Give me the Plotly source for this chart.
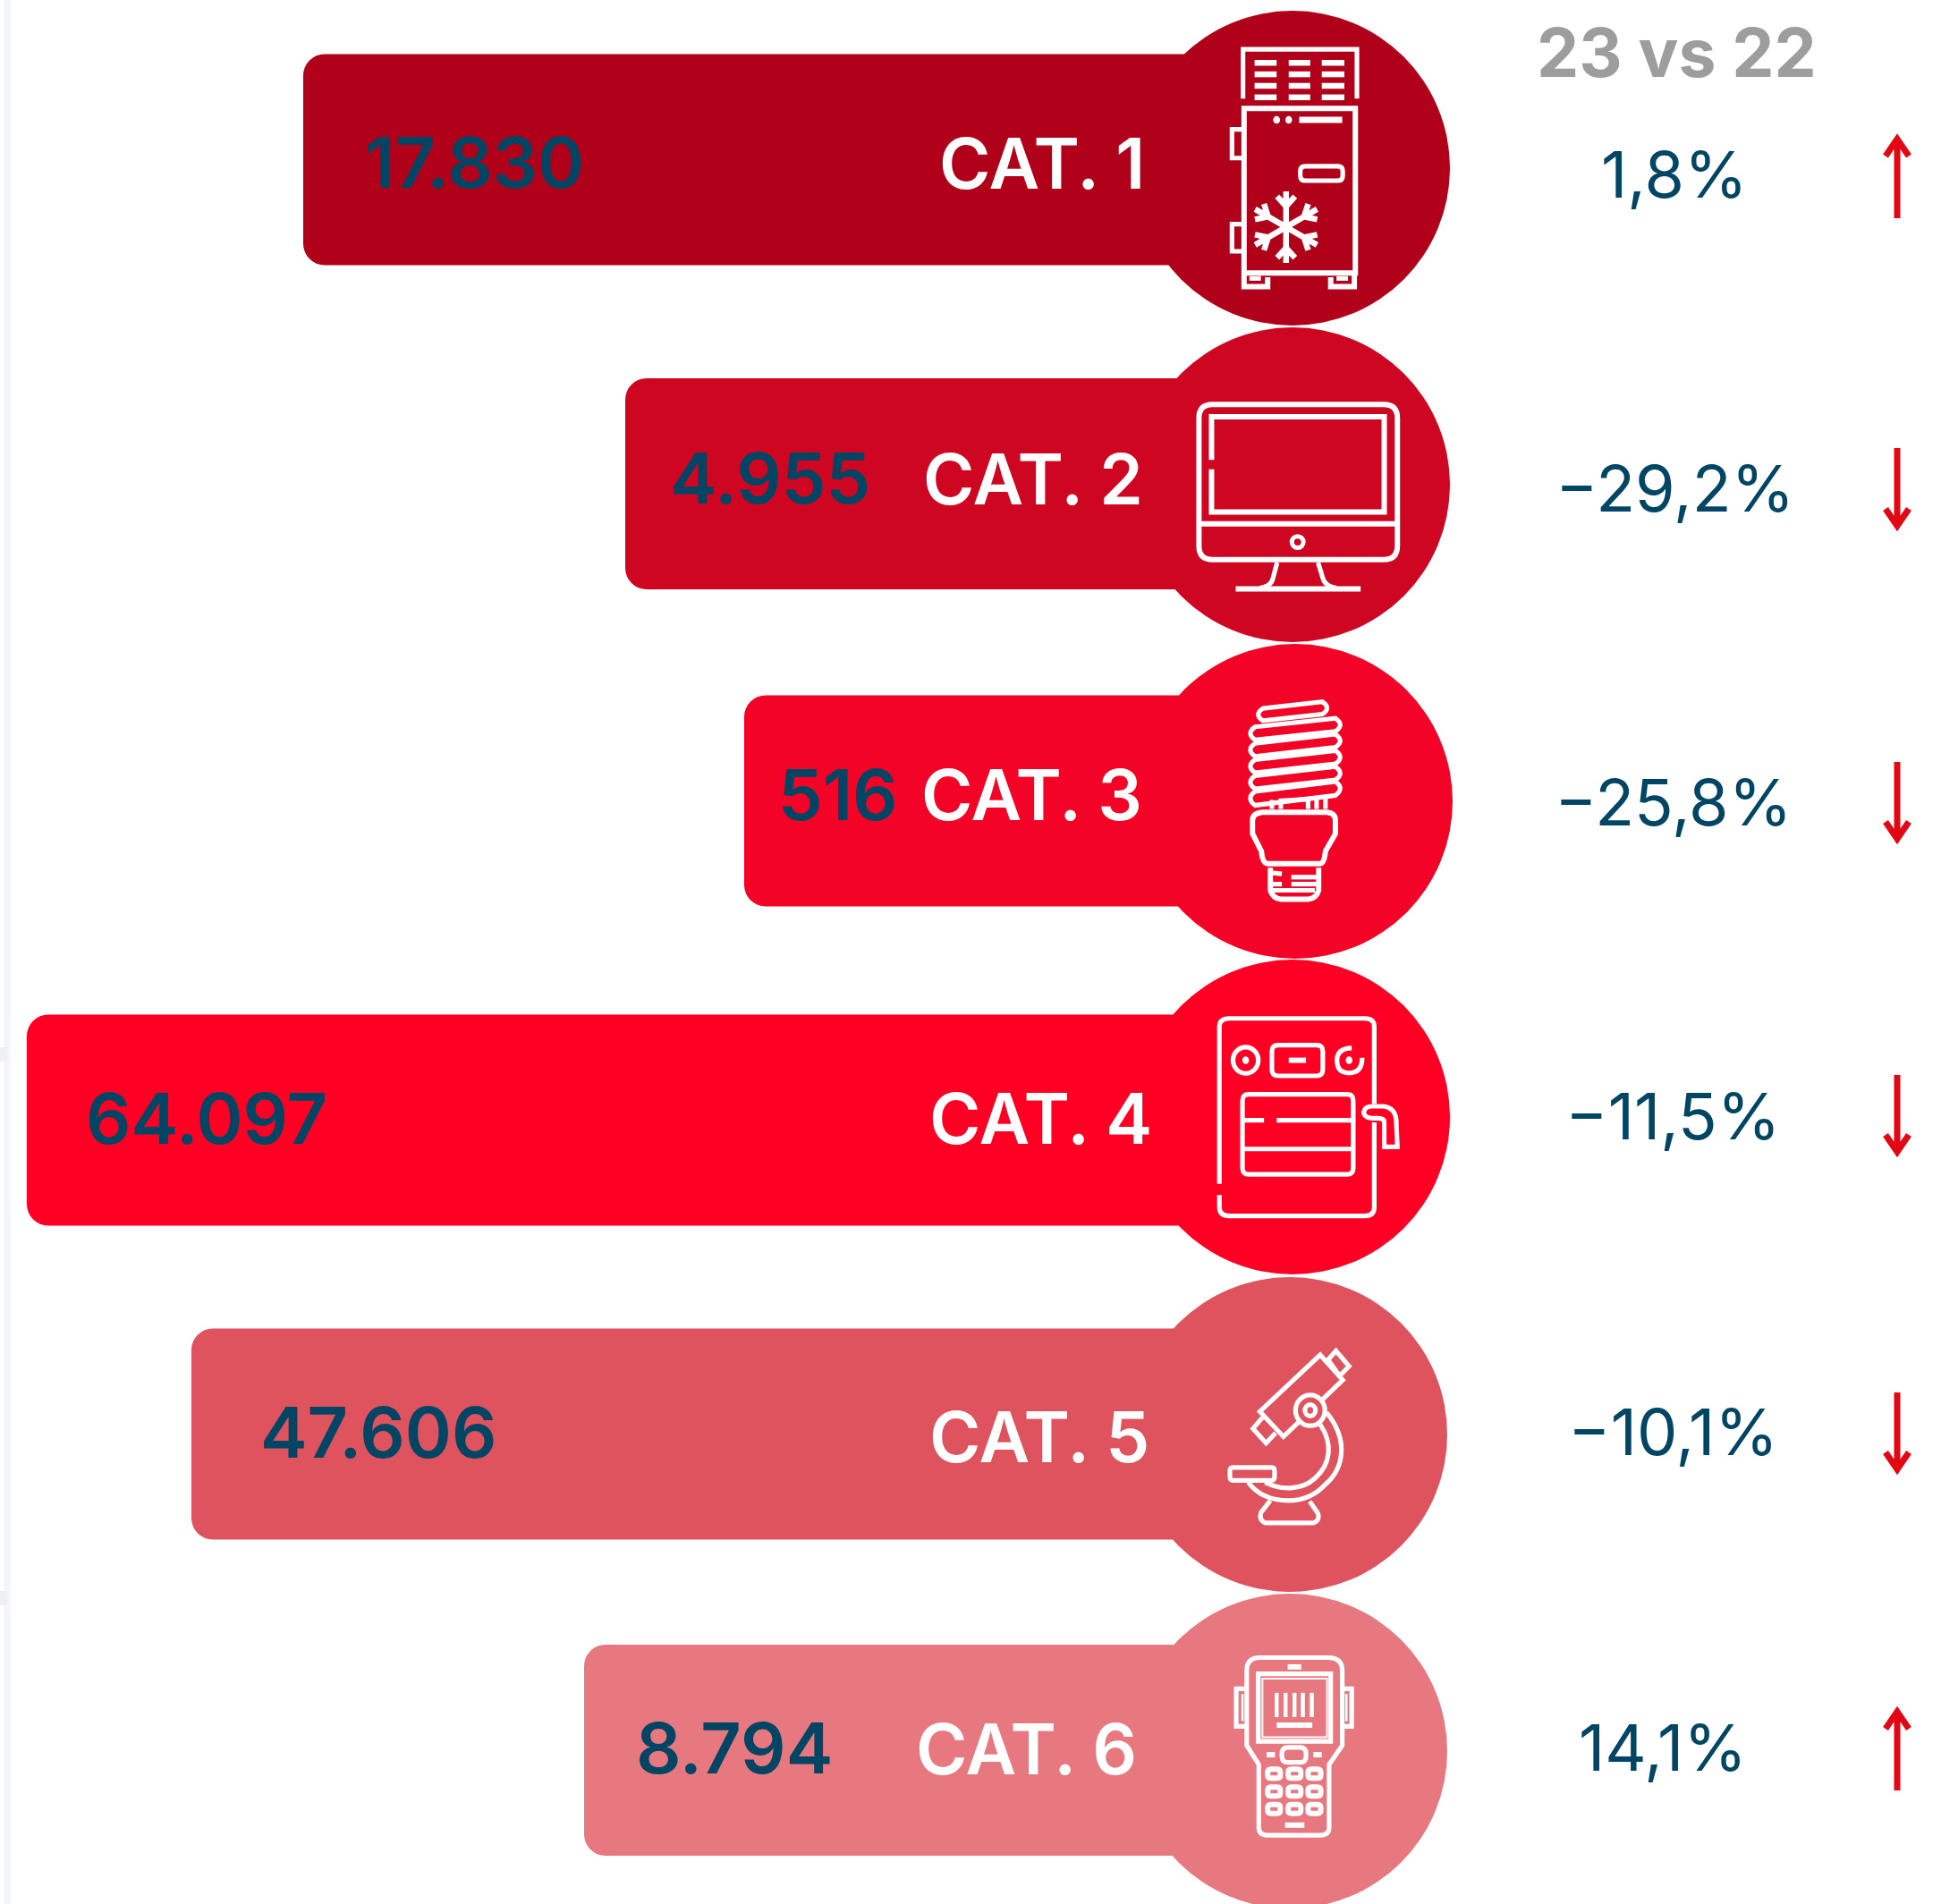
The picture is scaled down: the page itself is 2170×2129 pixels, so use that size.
import math
import plotly.graph_objects as go

# ---- data ----
categories = ["CAT. 1", "CAT. 2", "CAT. 3", "CAT. 4", "CAT. 5", "CAT. 6"]
values = [17830, 4955, 516, 64097, 47606, 8794]
pct_change = [1.8, -29.2, -25.8, -11.5, -10.1, 14.1]
# the source bars are not proportional to the values: drawn lengths
bar_length = [1106, 746, 613, 1415, 1231, 792]
header = "23 vs 22"

# ---- styling / layout ----
colors = ["#B0001A", "#CF0622", "#F30325", "#FF0024", "#DF535E", "#E87880"]
BLUE = "#004563"
GREY = "#9D9D9D"
ARROW = "#E30613"
W, H = 2170, 2129
bar_base = 1445
bar_center = [178.5, 541, 895.5, 1252.5, 1603.5, 1957]
circle_x = [1445, 1445, 1448, 1445, 1442, 1442]
circle_y = [188, 542, 896, 1249, 1604, 1958]
value_x = [406, 747, 868, 94, 289, 709]
value_y = [181, 534, 888, 1250, 1601, 1954]
cat_x = [1048, 1030, 1028, 1037, 1037, 1022]
cat_y = [182, 535, 888, 1250, 1606, 1955]
pct_x = [1872, 1872, 1870, 1870, 1870, 1859]
pct_y = [194, 545, 896, 1247, 1600, 1953]
arrow_x = 2121
arrow_top = [151.5, 501, 852, 1202, 1557, 1910]
arrow_bot = [244, 595, 945, 1295, 1650, 2002]


def fmt_value(v):
    return f"{v:,}".replace(",", ".")


def fmt_pct(p):
    s = f"{abs(p):.1f}".replace(".", ",") + "%"
    return ("\u2212" + s) if p < 0 else s


fig = go.Figure()
fig.add_trace(go.Bar(
    orientation="h", y=bar_center, x=[-v for v in bar_length],
    base=[bar_base] * 6, width=[236] * 6,
    marker=dict(color=colors, line=dict(width=0), cornerradius=24),
    hoverinfo="skip", showlegend=False))
fig.add_trace(go.Scatter(
    x=circle_x, y=circle_y, mode="markers",
    marker=dict(size=352, color=colors, line=dict(width=0), opacity=1),
    hoverinfo="skip", showlegend=False))

shapes = []
SW = 5.2


def T(x0, y0, sy=2.178):
    return (x0, y0, 1.704, sy)


def P(t, s):
    out, i = [], 0
    for tok in s.split():
        if tok.isalpha():
            out.append(tok)
        else:
            v = float(tok)
            if i % 2 == 0:
                out.append(f"{t[0] + v / t[2]:.2f}")
            else:
                out.append(f"{t[1] + v / t[3]:.2f}")
            i += 1
    return " ".join(out)


def add(path, width=SW, fill=None):
    d = dict(type="path", path=path, xref="x", yref="y", layer="above",
             line=dict(color="white", width=width))
    if fill:
        d["fillcolor"] = fill
    shapes.append(d)


def line(t, s, width=SW):
    add(P(t, s), width)


def rrect(t, x0, y0, x1, y1, r=8, width=SW, fill=None):
    ry = r * t[3] / t[2]
    s = (f"M {x0 + r} {y0} L {x1 - r} {y0} Q {x1} {y0} {x1} {y0 + ry} "
         f"L {x1} {y1 - ry} Q {x1} {y1} {x1 - r} {y1} L {x0 + r} {y1} "
         f"Q {x0} {y1} {x0} {y1 - ry} L {x0} {y0 + ry} Q {x0} {y0} {x0 + r} {y0} Z")
    add(P(t, s), width, fill)


def ell(t, cx, cy, rx, ry, width=SW, fill=None):
    k = 0.5523
    s = (f"M {cx - rx} {cy} C {cx - rx} {cy - k * ry} {cx - k * rx} {cy - ry} {cx} {cy - ry} "
         f"C {cx + k * rx} {cy - ry} {cx + rx} {cy - k * ry} {cx + rx} {cy} "
         f"C {cx + rx} {cy + k * ry} {cx + k * rx} {cy + ry} {cx} {cy + ry} "
         f"C {cx - k * rx} {cy + ry} {cx - rx} {cy + k * ry} {cx - rx} {cy} Z")
    add(P(t, s), width, fill)


def capsule(t, x0, y0, x1, y1, h):
    a = h / 2
    s = (f"M {x0 + 8} {y0 - a} L {x1 - 8} {y1 - a} Q {x1 + 10} {y1} {x1 - 8} {y1 + a} "
         f"L {x0 + 8} {y0 + a} Q {x0 - 10} {y0} {x0 + 8} {y0 - a} Z")
    add(P(t, s), SW)


# icon 1: refrigerated cabinet
t = T(1250, 0)
line(t, "M 238 240 L 238 120 L 455 120 L 455 240")
for ry_ in (153, 181, 209, 237):
    for a_, b_ in ((260, 302), (325, 366), (388, 431)):
        line(t, f"M {a_} {ry_} L {b_} {ry_}", 6.5)
line(t, "M 240 264 L 452 264 L 452 665 L 240 665 Z", 6)
line(t, "M 238 315 L 217 315 L 217 385 L 238 385")
line(t, "M 238 546 L 217 546 L 217 612 L 238 612")
ell(t, 302, 292, 4, 6, 3, "white")
ell(t, 325, 292, 4, 6, 3, "white")
line(t, "M 345 292 L 427 292", 7)
rrect(t, 347, 405, 428, 440, 10)
line(t, "M 240 670 L 240 698 L 285 698 L 285 675", 6)
line(t, "M 405 675 L 405 698 L 450 698 L 450 670", 6)
line(t, "M 250 678 L 272 678")
line(t, "M 416 678 L 438 678")
cxs, cys, rs = 1250 + 320 / 1.704, 553 / 2.178, 40
for k in range(6):
    ang = math.radians(90 + 60 * k)
    ux, uy = math.cos(ang), math.sin(ang)
    p = f"M {cxs:.1f} {cys:.1f} L {cxs + ux * rs:.1f} {cys + uy * rs:.1f}"
    for off in (0.58,):
        bx, by = cxs + ux * rs * off, cys + uy * rs * off
        for sgn in (-1, 1):
            a2 = ang + sgn * math.radians(42)
            p += f" M {bx:.1f} {by:.1f} L {bx + math.cos(a2) * 15:.1f} {by + math.sin(a2) * 15:.1f}"
    add(p, 6.5)

# icon 2: monitor
t = T(1250, 0)
rrect(t, 154, 985, 532, 1363, 26, 6)
line(t, "M 178 1120 L 178 1015 L 507 1015 L 507 1247 L 178 1247 L 178 1143", 6)
line(t, "M 155 1276 L 530 1276", 6)
ell(t, 342, 1320, 11, 14, 5)
line(t, "M 303 1370 L 295 1408 Q 292 1428 270 1432")
line(t, "M 381 1370 L 390 1408 Q 394 1428 416 1432")
line(t, "M 224 1434 L 462 1434", 6)

# icon 3: bulb
t = T(1250, 720)
capsule(t, 268, 172, 397, 156, 30)
capsule(t, 253, 218, 422, 197, 32)
capsule(t, 253, 258, 422, 236, 32)
capsule(t, 253, 298, 422, 276, 32)
capsule(t, 253, 337, 422, 315, 32)
capsule(t, 253, 376, 422, 352, 34)
line(t, "M 293 380 L 293 402")
line(t, "M 310 402 L 310 382 L 362 378 L 362 402")
line(t, "M 378 375 L 378 402")
line(t, "M 395 372 L 395 402")
line(t, "M 275 410 L 398 410 Q 414 412 414 430 L 414 462 L 395 505 Q 393 535 385 535 L 285 535 Q 275 535 273 505 L 256 462 L 256 430 Q 256 412 275 410 Z", 6)
line(t, "M 290 545 L 290 600 Q 295 620 310 622 L 362 622 Q 378 620 382 600 L 382 545", 6)
line(t, "M 295 558 L 312 560")
line(t, "M 330 568 L 378 568")
line(t, "M 295 585 L 312 585")
line(t, "M 330 585 L 378 585")
line(t, "M 295 600 L 375 600")

# icon 4: meter
t = T(1250, 720)
line(t, "M 193 1315 L 193 932 Q 193 912 212 912 L 470 912 Q 488 912 488 932 L 488 1120 M 488 1165 L 488 1372 Q 488 1393 470 1393 L 212 1393 Q 193 1393 193 1372 L 193 1342")
ell(t, 243, 1014, 24, 32)
ell(t, 243, 1014, 4, 6, 3, "white")
line(t, "M 445 984 Q 417 985 417 1014 Q 417 1045 440 1045 Q 465 1045 465 1008")
ell(t, 440, 1014, 4, 6, 3, "white")
rrect(t, 293, 977, 390, 1052, 12)
line(t, "M 325 1014 L 358 1014", 6)
rrect(t, 237, 1097, 448, 1292, 12)
line(t, "M 240 1160 L 278 1160")
line(t, "M 302 1160 L 445 1160")
line(t, "M 240 1230 L 445 1230")
line(t, "M 485 1126 L 505 1126 Q 530 1130 530 1165 L 532 1225 L 507 1225 L 507 1165 Q 507 1155 495 1155 L 482 1155 Q 468 1152 468 1140 Q 470 1126 485 1126")

# icon 5: microscope
t = T(1250, 1420, 2.21)
line(t, "M 345 375 L 315 412 L 270 350 L 385 210 L 428 272 L 388 322")
line(t, "M 400 222 L 415 200 L 440 238 L 422 262 Z")
line(t, "M 275 365 L 257 392 L 282 428 L 300 403")
ell(t, 366, 347, 28, 38)
ell(t, 366, 347, 10, 14)
line(t, "M 397 352 C 440 420 430 490 395 530 C 370 565 340 570 325 570 C 290 570 265 555 248 525")
line(t, "M 385 382 C 410 430 405 480 375 515 C 350 545 310 545 280 525")
line(t, "M 290 570 L 272 600 Q 268 618 280 625 L 372 625 Q 386 618 380 600 L 365 572")
rrect(t, 213, 488, 298, 520, 6)

# icon 6: handheld terminal
t = T(1250, 1420, 2.21)
line(t, "M 245 1175 L 245 990 Q 245 958 270 958 L 400 958 Q 427 958 427 990 L 427 1175 L 402 1222 L 402 1378 Q 402 1397 385 1397 L 285 1397 Q 268 1397 268 1378 L 268 1222 Z")
line(t, "M 323 981 L 349 981", 6)
line(t, "M 267 998 L 405 998 L 405 1165 L 267 1165 Z")
line(t, "M 275 1010 L 398 1010 L 398 1155 L 275 1155 Z", 2)
for bx_ in (302, 319, 336, 352, 369):
    line(t, f"M {bx_} 1045 L {bx_} 1105", 4.5)
line(t, "M 302 1125 L 370 1125", 6)
line(t, "M 243 1035 L 225 1035 L 225 1128 L 243 1128")
line(t, "M 237 1048 L 237 1115", 2.5)
line(t, "M 429 1035 L 445 1035 L 445 1128 L 429 1128")
line(t, "M 435 1048 L 435 1115", 2.5)
rrect(t, 312, 1180, 358, 1217, 12)
line(t, "M 283 1198 L 299 1198", 6)
line(t, "M 372 1198 L 388 1198", 6)
for ky in (1245, 1289, 1332):
    for kx in (297, 336, 374):
        rrect(t, kx - 12, ky - 11, kx + 12, ky + 11, 6, 6)
line(t, "M 318 1372 L 355 1372", 6)

# change arrows: direction follows the sign of the change
for p, top, bot in zip(pct_change, arrow_top, arrow_bot):
    if p >= 0:
        path = f"M {arrow_x} {bot} L {arrow_x} {top + 5} M {arrow_x - 13} {top + 23} L {arrow_x} {top + 4} L {arrow_x + 13} {top + 23}"
    else:
        path = f"M {arrow_x} {top} L {arrow_x} {bot - 8} M {arrow_x - 13} {bot - 26} L {arrow_x} {bot - 7} L {arrow_x + 13} {bot - 26}"
    shapes.append(dict(type="path", path=path, xref="x", yref="y", layer="above",
                       line=dict(color=ARROW, width=7)))

# faint strip on the left edge of the source
shapes.append(dict(type="rect", xref="x", yref="y", x0=4.5, x1=12, y0=0, y1=H,
                   fillcolor="#F3F6FA", line=dict(width=0), layer="below"))
for y_ in (1179, 1787):
    shapes.append(dict(type="rect", xref="x", yref="y", x0=0, x1=8, y0=y_ - 8, y1=y_ + 8,
                       fillcolor="#EEF1F4", line=dict(width=0), layer="below"))

ann = []
for i in range(6):
    ann.append(dict(x=value_x[i], y=value_y[i], text=fmt_value(values[i]), xanchor="left", yanchor="middle",
                    showarrow=False, font=dict(family="Inter", size=79, color=BLUE, weight=600)))
    ann.append(dict(x=cat_x[i], y=cat_y[i], text=categories[i], xanchor="left", yanchor="middle",
                    showarrow=False, font=dict(family="Inter", size=78, color="white", weight=600)))
    ann.append(dict(x=pct_x[i], y=pct_y[i], text=fmt_pct(pct_change[i]), xanchor="center", yanchor="middle",
                    showarrow=False, font=dict(family="Inter", size=72, color=BLUE, weight=400)))
ann.append(dict(x=1874, y=58, text=header, xanchor="center", yanchor="middle", showarrow=False,
                font=dict(family="Inter", size=75, color=GREY, weight=700)))

fig.update_layout(
    width=W, height=H, margin=dict(l=0, r=0, t=0, b=0),
    paper_bgcolor="white", plot_bgcolor="rgba(0,0,0,0)",
    xaxis=dict(range=[0, W], visible=False, fixedrange=True),
    yaxis=dict(range=[H, 0], visible=False, fixedrange=True),
    barmode="overlay", shapes=shapes, annotations=ann, showlegend=False,
)
fig.write_html("out.html", config=dict(displayModeBar=False),
               post_script="document.body.style.margin='0';")
